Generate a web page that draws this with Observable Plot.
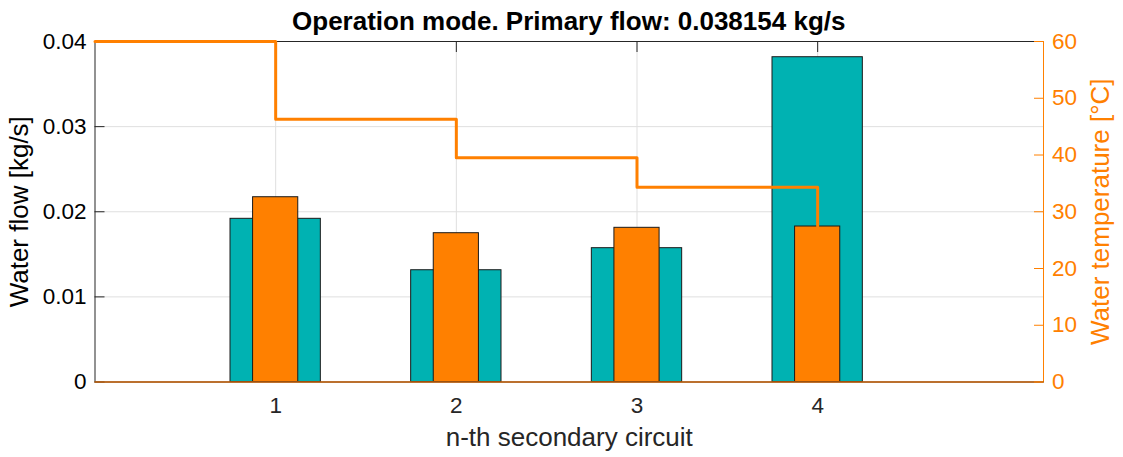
<!DOCTYPE html>
<html>
<head>
<meta charset="utf-8">
<script src="https://cdn.jsdelivr.net/npm/d3@7"></script>
<script src="https://cdn.jsdelivr.net/npm/@observablehq/plot@0.6"></script>
<style>
  html, body { margin: 0; padding: 0; background: #fff; }
  #chart { position: relative; width: 1123px; height: 457px; font-family: "Liberation Sans", Arial, sans-serif; }
  #chart svg { position: absolute; left: 0; top: 0; }
  #title { position: absolute; top: 5.5px; left: 94.5px; width: 948.5px; text-align: center;
           font: bold 26px/30px "Liberation Sans", Arial, sans-serif; color: #000; }
</style>
</head>
<body>
<div id="chart"><div id="title">Operation mode. Primary flow: 0.038154 kg/s</div></div>
<script>
// Secondary circuits and their measured values
const circuits = [1, 2, 3, 4];
const flows = [0.01917, 0.01313, 0.01572, 0.038154];     // kg/s (left axis)
const temps = [32.56, 26.22, 27.17, 27.4];               // °C (right axis)

// Supply temperature along the cascade (stairs)
const stairX = [0, 1, 2, 3, 4];
const stairTemps = [60, 46.31, 39.5, 34.33, 27.4];

// Axis ticks
const xTicks = [1, 2, 3, 4];
const flowTicks = [0, 0.01, 0.02, 0.03, 0.04];
const tempTicks = [0, 10, 20, 30, 40, 50, 60];
const xMax = 5.25;

const TEAL = "#00b2b2";
const ORANGE = "#ff8000";
const EDGE = "#1a1a1a";
const INK = "#262626";
const GRID = "#dfdfdf";
const TICK_FONT = 22.5;
const LABEL_FONT = 26;

const rows = circuits.map((n, i) => ({n, flow: flows[i], temp: temps[i]}));
const stairs = stairX.map((x, i) => ({x, t: stairTemps[i]}));

const frameOpts = {
  width: 1123, height: 457,
  marginLeft: 94.5, marginRight: 80, marginTop: 41, marginBottom: 75.5,
  style: {fontFamily: "'Liberation Sans', Arial, sans-serif", fontSize: TICK_FONT + "px", background: "transparent", overflow: "visible"}
};

// Left axis: water flow
const flowPlot = Plot.plot({
  ...frameOpts,
  x: {domain: [0, xMax], axis: null},
  y: {domain: [0, 0.04], axis: null},
  marks: [
    Plot.gridX(xTicks, {stroke: GRID, strokeOpacity: 1}),
    Plot.gridY(flowTicks.slice(1, -1), {stroke: GRID, strokeOpacity: 1}),
    Plot.frame({stroke: INK, strokeWidth: 1}),
    Plot.axisX({anchor: "top", ticks: xTicks, tickSize: -10, tickFormat: () => "", stroke: INK, label: null}),
    Plot.axisX({anchor: "bottom", ticks: xTicks, tickSize: 0, tickPadding: 15.5, tickFormat: d3.format("d"),
                fill: INK, label: null, fontSize: TICK_FONT}),
    Plot.axisY({anchor: "left", ticks: flowTicks, tickSize: -10, tickPadding: 18.5,
                tickFormat: d3.format(".2~f"), stroke: INK, fill: "#000", label: null, fontSize: TICK_FONT}),
    Plot.rect(rows, {x1: d => d.n - 0.25, x2: d => d.n + 0.25, y1: 0, y2: "flow",
                     fill: TEAL, stroke: EDGE, strokeWidth: 1}),
    Plot.text(["Water flow [kg/s]"], {frameAnchor: "left", rotate: -90, dx: -75, textAnchor: "middle",
                                      lineAnchor: "middle", fontSize: LABEL_FONT, fill: "#000"}),
    Plot.text(["n-th secondary circuit"], {frameAnchor: "bottom", dy: 56, textAnchor: "middle",
                                           lineAnchor: "middle", fontSize: LABEL_FONT, fill: INK})
  ]
});

// Right axis: water temperature
const tempPlot = Plot.plot({
  ...frameOpts,
  x: {domain: [0, xMax], axis: null},
  y: {domain: [0, 60], axis: null},
  marks: [
    Plot.rect(rows, {x1: d => d.n - 0.125, x2: d => d.n + 0.125, y1: 0, y2: "temp",
                     fill: ORANGE, stroke: EDGE, strokeWidth: 1}),
    Plot.ruleY([0], {stroke: "#c8650c", strokeWidth: 1.5}),
    Plot.line(stairs, {x: "x", y: "t", curve: "step-after", stroke: ORANGE, strokeWidth: 3}),
    Plot.ruleX([xMax], {stroke: ORANGE, strokeWidth: 1}),
    Plot.axisY({anchor: "right", ticks: tempTicks, tickSize: -10, tickPadding: 18.5,
                stroke: ORANGE, fill: ORANGE, label: null, fontSize: TICK_FONT}),
    Plot.text(["Water temperature [°C]"], {frameAnchor: "right", rotate: -90, dx: 57, textAnchor: "middle",
                                           lineAnchor: "middle", fontSize: LABEL_FONT, fill: ORANGE})
  ]
});

const chart = document.getElementById("chart");
chart.appendChild(flowPlot);
chart.appendChild(tempPlot);
</script>
</body>
</html>
